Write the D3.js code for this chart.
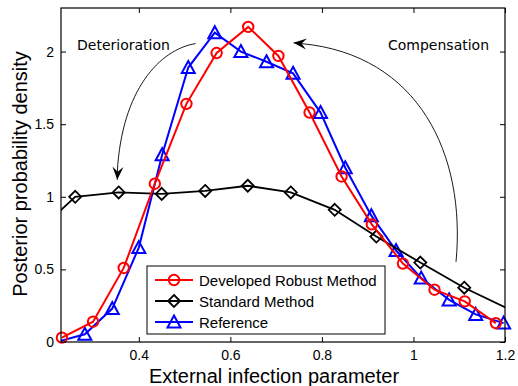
<!DOCTYPE html>
<html lang="en">
<head>
  <meta charset="UTF-8">
  <title>Posterior probability density</title>
  <style>
    body { margin: 0; background: #fff; }
    svg { display: block; font-family: "Liberation Sans", Arial, sans-serif; }
  </style>
  <script src="https://d3js.org/d3.v7.min.js"></script>
</head>
<body>
  <div id="chart"></div>
  <script>
    // values
    const robustX = [0.232, 0.300, 0.367, 0.435, 0.504, 0.570, 0.639, 0.705, 0.773, 0.843, 0.909, 0.977, 1.046, 1.112, 1.180];
    const robustY = [0.03, 0.14, 0.51, 1.09, 1.64, 1.99, 2.17, 1.97, 1.58, 1.14, 0.81, 0.54, 0.36, 0.28, 0.13];

    const standardX = [0.166, 0.261, 0.356, 0.450, 0.545, 0.638, 0.732, 0.828, 0.919, 1.015, 1.111, 1.206];
    const standardY = [0.72, 1.00, 1.03, 1.02, 1.04, 1.076, 1.03, 0.91, 0.726, 0.547, 0.374, 0.23];

    const referenceX = [0.226, 0.282, 0.342, 0.400, 0.451, 0.508, 0.566, 0.623, 0.679, 0.737, 0.797, 0.851, 0.908, 0.962, 1.017, 1.078, 1.136, 1.197];
    const referenceY = [0.005, 0.053, 0.23, 0.65, 1.29, 1.89, 2.13, 2.00, 1.93, 1.85, 1.58, 1.20, 0.87, 0.63, 0.44, 0.29, 0.19, 0.13];

    const xTicks = [0.4, 0.6, 0.8, 1, 1.2];
    const yTicks = [0, 0.5, 1, 1.5, 2];

    const seriesNames = ["Developed Robust Method", "Standard Method", "Reference"];

    // annotation arrows, in data units (start, ctrl1, ctrl2, end, tip)
    const detArrow = [[0.524, 2.055], [0.446, 2.014], [0.363, 1.738], [0.353, 1.172], [0.353, 1.117]];
    const compArrow = [[1.093, 0.552], [1.115, 1.290], [1.012, 1.979], [0.755, 2.055], [0.738, 2.060]];

    const W = 518, H = 386;
    const pLeft = 61, pRight = 505, pTop = 8, pBottom = 342;

    const svg = d3.select("#chart").append("svg")
      .attr("width", W).attr("height", H);

    const x = d3.scaleLinear().domain([0.23, 1.2]).range([pLeft, pRight]);
    const y = d3.scaleLinear().domain([0, 2.3]).range([pBottom, pTop]);

    svg.append("clipPath").attr("id", "plotclip")
      .append("rect")
      .attr("x", pLeft).attr("y", pTop)
      .attr("width", pRight - pLeft).attr("height", pBottom - pTop);

    // axes with inward ticks on all four sides
    const tickLen = 5;
    svg.append("g").attr("transform", `translate(0,${pBottom})`)
      .call(d3.axisBottom(x).tickValues(xTicks).tickSizeInner(-tickLen).tickSizeOuter(0).tickPadding(8).tickFormat(d3.format("")))
      .call(g => g.select(".domain").remove());
    svg.append("g").attr("transform", `translate(0,${pTop})`)
      .call(d3.axisTop(x).tickValues(xTicks).tickSizeInner(-tickLen).tickSizeOuter(0).tickFormat(""))
      .call(g => g.select(".domain").remove());
    svg.append("g").attr("transform", `translate(${pLeft},0)`)
      .call(d3.axisLeft(y).tickValues(yTicks).tickSizeInner(-tickLen).tickSizeOuter(0).tickPadding(7).tickFormat(d3.format("")))
      .call(g => g.select(".domain").remove());
    svg.append("g").attr("transform", `translate(${pRight},0)`)
      .call(d3.axisRight(y).tickValues(yTicks).tickSizeInner(-tickLen).tickSizeOuter(0).tickFormat(""))
      .call(g => g.select(".domain").remove());

    svg.selectAll(".tick text")
      .style("font-family", "'Liberation Sans', Arial, sans-serif")
      .style("font-size", "14px").attr("fill", "#000");
    svg.selectAll(".tick line").attr("stroke", "#000").attr("stroke-width", 1);

    // series
    const line = d3.line().x(d => x(d[0])).y(d => y(d[1]));
    const inside = d => d[0] >= 0.23 && d[0] <= 1.2;

    function marker(sel, kind, color) {
      if (kind === "circle") {
        sel.append("circle").attr("r", 5.2)
          .attr("fill", "none").attr("stroke", color).attr("stroke-width", 2);
      } else if (kind === "diamond") {
        sel.append("path").attr("d", "M0,-6L6,0L0,6L-6,0Z")
          .attr("fill", "none").attr("stroke", color).attr("stroke-width", 1.8);
      } else {
        sel.append("path").attr("d", "M0,-6.5L6.5,5.5L-6.5,5.5Z")
          .attr("fill", "none").attr("stroke", color).attr("stroke-width", 2);
      }
    }

    function drawSeries(xs, ys, color, kind, lw) {
      const pts = xs.map((v, i) => [v, ys[i]]);
      svg.append("path").datum(pts)
        .attr("clip-path", "url(#plotclip)")
        .attr("fill", "none").attr("stroke", color).attr("stroke-width", lw)
        .attr("d", line);
      svg.append("g").selectAll("g").data(pts.filter(inside)).join("g")
        .attr("transform", d => `translate(${x(d[0])},${y(d[1])})`)
        .each(function() { marker(d3.select(this), kind, color); });
    }

    drawSeries(referenceX, referenceY, "#0000ff", "triangle", 2);
    drawSeries(standardX, standardY, "#000000", "diamond", 1.8);
    drawSeries(robustX, robustY, "#ff0000", "circle", 2);

    // plot box
    svg.append("rect")
      .attr("x", pLeft).attr("y", pTop)
      .attr("width", pRight - pLeft).attr("height", pBottom - pTop)
      .attr("fill", "none").attr("stroke", "#000").attr("stroke-width", 1.2);

    // curved annotation arrows
    function arrow(pts) {
      const p = pts.map(d => [x(d[0]), y(d[1])]);
      const path = d3.path();
      path.moveTo(p[0][0], p[0][1]);
      path.bezierCurveTo(p[1][0], p[1][1], p[2][0], p[2][1], p[3][0], p[3][1]);
      path.lineTo(p[4][0], p[4][1]);
      svg.append("path").attr("d", path.toString())
        .attr("fill", "none").attr("stroke", "#000").attr("stroke-width", 0.9);
      // arrow head
      const tip = p[4];
      const ang = Math.atan2(p[4][1] - p[2][1], p[4][0] - p[2][0]);
      const L = 13, Wd = 5.5, notch = 8;
      const ux = Math.cos(ang), uy = Math.sin(ang);
      const px = -uy, py = ux;
      const back = [tip[0] - ux * L, tip[1] - uy * L];
      const mid = [tip[0] - ux * notch, tip[1] - uy * notch];
      const head = [
        tip,
        [back[0] + px * Wd, back[1] + py * Wd],
        mid,
        [back[0] - px * Wd, back[1] - py * Wd]
      ];
      svg.append("path").attr("d", "M" + head.map(d => d.join(",")).join("L") + "Z")
        .attr("fill", "#000");
    }
    arrow(detArrow);
    arrow(compArrow);

    svg.append("text").attr("x", 77).attr("y", 50)
      .style("font-family", "'DejaVu Sans', sans-serif").style("font-size", "14px")
      .text("Deterioration");
    svg.append("text").attr("x", 388).attr("y", 50)
      .style("font-family", "'DejaVu Sans', sans-serif").style("font-size", "14px")
      .text("Compensation");

    // legend
    const lg = svg.append("g");
    lg.append("rect")
      .attr("x", 147).attr("y", 266).attr("width", 238).attr("height", 68)
      .attr("fill", "#fff").attr("stroke", "#000").attr("stroke-width", 1);
    const legendItems = [
      { name: seriesNames[0], color: "#ff0000", kind: "circle" },
      { name: seriesNames[1], color: "#000000", kind: "diamond" },
      { name: seriesNames[2], color: "#0000ff", kind: "triangle" }
    ];
    legendItems.forEach((it, i) => {
      const cy = 280 + i * 21;
      lg.append("line").attr("x1", 155).attr("x2", 193).attr("y1", cy).attr("y2", cy)
        .attr("stroke", it.color).attr("stroke-width", 2);
      const m = lg.append("g").attr("transform", `translate(174,${cy})`);
      marker(m, it.kind, it.color);
      lg.append("text").attr("x", 199).attr("y", cy + 5.5)
        .style("font-size", "15px").text(it.name);
    });

    // axis labels
    svg.append("text")
      .attr("x", 274).attr("y", 383)
      .attr("text-anchor", "middle").style("font-size", "20px")
      .text("External infection parameter");
    svg.append("text")
      .attr("transform", "translate(27,174) rotate(-90)")
      .attr("text-anchor", "middle").style("font-size", "20px")
      .text("Posterior probability density");
  </script>
</body>
</html>
